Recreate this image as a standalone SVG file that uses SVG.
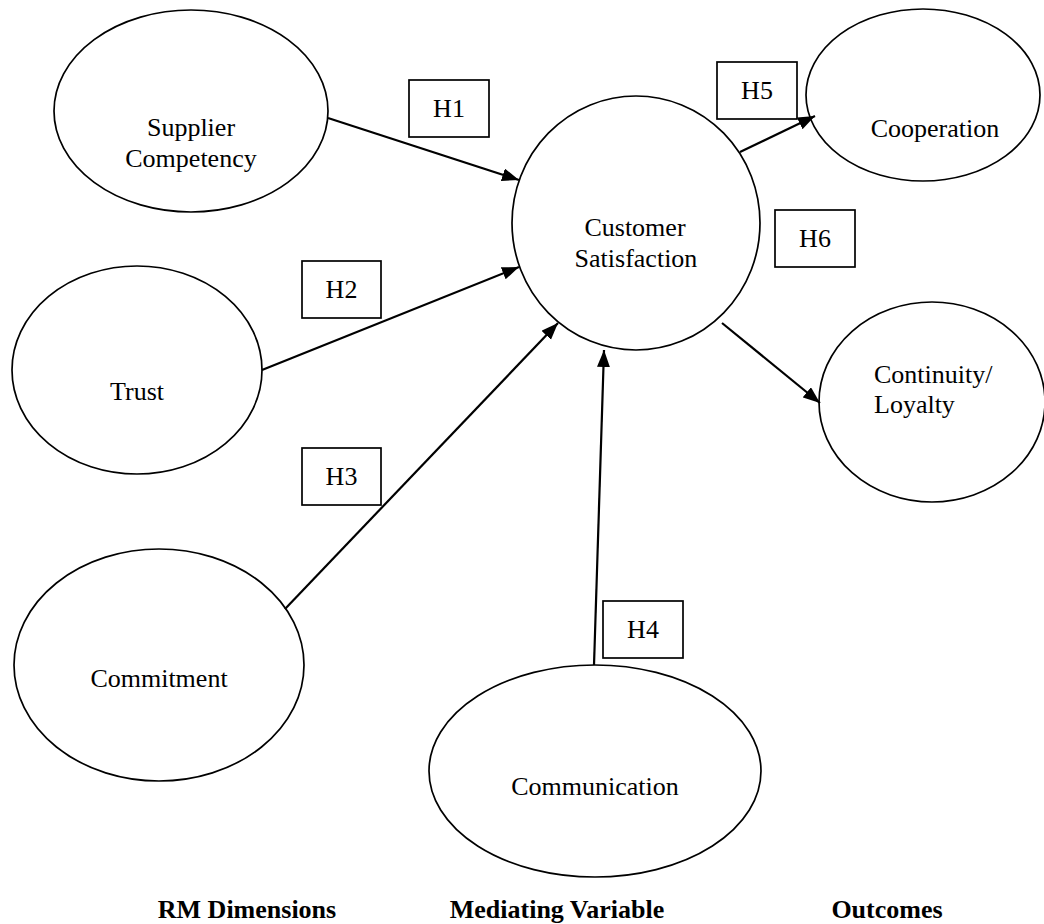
<svg xmlns="http://www.w3.org/2000/svg" width="1044" height="924" viewBox="0 0 1044 924">
<style>
.node{fill:#fff;stroke:#000;stroke-width:1.7}
.box{fill:#fff;stroke:#000;stroke-width:1.7}
.t{font-family:"Liberation Serif","Times New Roman",serif;font-size:26px;fill:#000}
.c{text-anchor:middle}
.lbl{font-family:"Liberation Serif","Times New Roman",serif;font-size:26px;font-weight:bold;fill:#000;text-anchor:middle}
.edge{stroke:#000;stroke-width:2.2;fill:none;marker-end:url(#arr)}
</style>
<defs>
<marker id="arr" markerUnits="userSpaceOnUse" markerWidth="18" markerHeight="14" refX="17" refY="6.5" orient="auto">
<path d="M0,0 L17,6.5 L0,13 z" fill="#000"/>
</marker>
</defs>
<rect width="1044" height="924" fill="#fff"/>
<g id="nodes">
<g id="supplier"><ellipse class="node" cx="191" cy="111" rx="137" ry="101"/><text class="t c" x="191" y="136">Supplier</text><text class="t c" x="191" y="167">Competency</text></g>
<g id="trust"><ellipse class="node" cx="137" cy="370" rx="125" ry="104"/><text class="t c" x="137" y="400">Trust</text></g>
<g id="commitment"><ellipse class="node" cx="159" cy="665" rx="145" ry="116"/><text class="t c" x="159" y="687">Commitment</text></g>
<g id="communication"><ellipse class="node" cx="595" cy="771" rx="166" ry="106"/><text class="t c" x="595" y="795">Communication</text></g>
<g id="satisfaction"><ellipse class="node" cx="636" cy="223" rx="124" ry="127"/><text class="t c" x="635" y="236">Customer</text><text class="t c" x="636" y="267">Satisfaction</text></g>
<g id="cooperation"><ellipse class="node" cx="923" cy="95" rx="117" ry="86"/><text class="t c" x="935" y="137">Cooperation</text></g>
<g id="continuity"><ellipse class="node" cx="932" cy="402" rx="113" ry="100"/><text class="t" x="874" y="383">Continuity/</text><text class="t" x="874" y="413">Loyalty</text></g>
</g>
<g id="connectors">
<line class="edge" x1="328" y1="118" x2="519" y2="180"/>
<line class="edge" x1="262" y1="370" x2="519" y2="267"/>
<line class="edge" x1="285" y1="609" x2="558" y2="323"/>
<line class="edge" x1="594" y1="665" x2="604" y2="350"/>
<line class="edge" x1="740" y1="152" x2="815" y2="116"/>
<line class="edge" x1="722" y1="323" x2="820" y2="403"/>
</g>
<g id="hyp-labels">
<g id="h1"><rect class="box" x="409" y="80" width="80" height="57"/><text class="t c" x="449" y="117">H1</text></g>
<g id="h2"><rect class="box" x="302" y="261" width="79" height="57"/><text class="t c" x="341.5" y="298">H2</text></g>
<g id="h3"><rect class="box" x="302" y="448" width="79" height="57"/><text class="t c" x="341.5" y="485">H3</text></g>
<g id="h4"><rect class="box" x="603" y="601" width="80" height="57"/><text class="t c" x="643" y="638">H4</text></g>
<g id="h5"><rect class="box" x="717" y="62" width="80" height="57"/><text class="t c" x="757" y="99">H5</text></g>
<g id="h6"><rect class="box" x="775" y="210" width="80" height="57"/><text class="t c" x="815" y="247">H6</text></g>
</g>
<g id="footer">
<text class="lbl" x="247" y="918">RM Dimensions</text>
<text class="lbl" x="557" y="918">Mediating Variable</text>
<text class="lbl" x="887" y="918">Outcomes</text>
</g>
</svg>
